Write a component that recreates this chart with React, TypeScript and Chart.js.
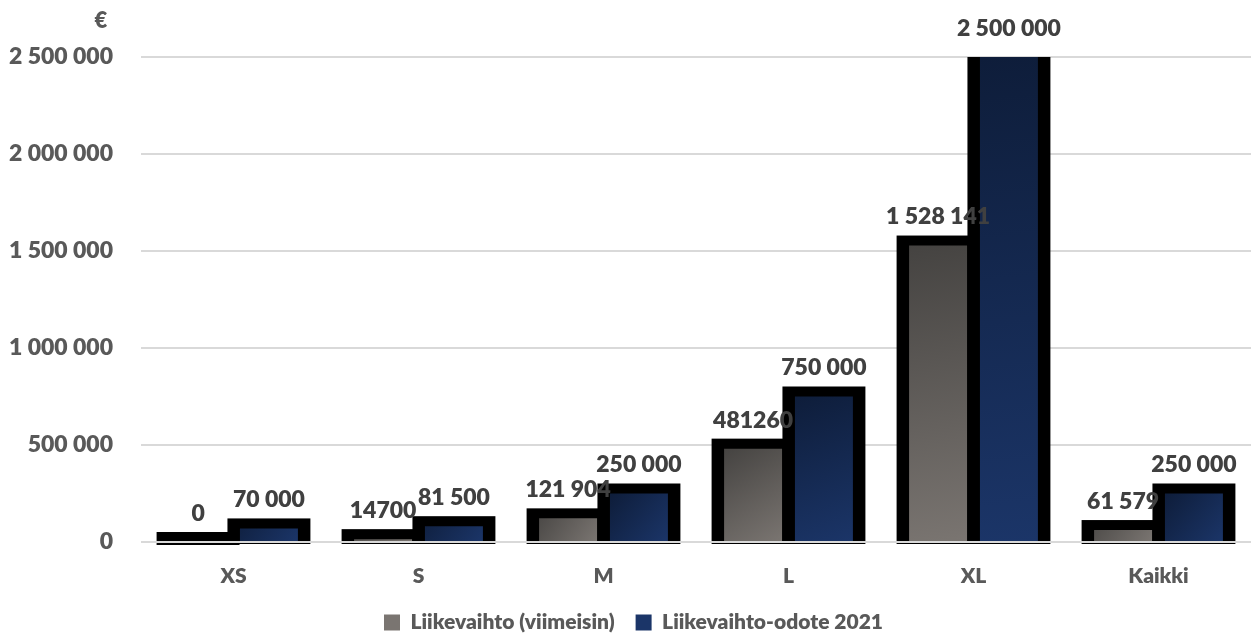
import React, { useEffect, useRef } from "react";
import { Chart, registerables } from "chart.js";

Chart.register(...registerables);

const categories = ["XS", "S", "M", "L", "XL", "Kaikki"];
const seriesNames = ["Liikevaihto (viimeisin)", "Liikevaihto-odote 2021"];
const latestRevenue = [0, 14700, 121904, 481260, 1528141, 61579];
const expectedRevenue2021 = [70000, 81500, 250000, 750000, 2500000, 250000];
const latestLabels = ["0", "14700", "121 904", "481260", "1 528 141", "61 579"];
const expectedLabels = ["70 000", "81 500", "250 000", "750 000", "2 500 000", "250 000"];
const yMin = 0;
const yMax = 2500000;
const yStep = 500000;
const unitLabel = "€";

const FONT = "Lato, 'Open Sans', sans-serif";
const WEIGHT = 800;
const CAT_PCT = 0.766;
const BAR_PCT = 0.818;
const BORDER_SIDE = 12.5;
const BORDER_TOP = 10;

const fmt = (v: number) => String(v).replace(/\B(?=(\d{3})+(?!\d))/g, " ");

function makeBg(dark: string, light: string, solid: string, side: number) {
  return (c: any) => {
    if (c.type !== "data") return solid;
    const chart = c.chart;
    const xs = chart.scales?.x;
    const ys = chart.scales?.y;
    if (!xs || !ys || !chart.chartArea) return solid;
    const cx = xs.getPixelForValue(c.dataIndex);
    const cat = xs.width / categories.length;
    const pitch = (cat * CAT_PCT) / 2;
    const bx = cx + (side * pitch) / 2;
    const half = (pitch * BAR_PCT) / 2;
    const top = ys.getPixelForValue(c.raw);
    const base = ys.getPixelForValue(0);
    const g = chart.ctx.createLinearGradient(bx - half, Math.min(top, base - 40), bx + half, base);
    g.addColorStop(0, dark);
    g.addColorStop(1, light);
    return g;
  };
}

const borderPlugin = {
  id: "thickBorder",
  beforeDatasetsDraw(chart: any) {
    const { ctx, chartArea } = chart;
    ctx.save();
    ctx.beginPath();
    ctx.rect(chartArea.left, chartArea.top, chartArea.right - chartArea.left, chartArea.bottom - chartArea.top + 4);
    ctx.clip();
    ctx.fillStyle = "#000000";
    [0, 1].forEach((di) => {
      const meta = chart.getDatasetMeta(di);
      meta.data.forEach((el: any) => {
        const { x, y, base, width } = el.getProps(["x", "y", "base", "width"], true);
        const l = x - width / 2 - BORDER_SIDE;
        const r = x + width / 2 + BORDER_SIDE;
        const t = Math.min(y, base) - BORDER_TOP;
        const b = base + 3;
        ctx.fillRect(l, t, r - l, b - t);
      });
    });
    ctx.restore();
  },
  afterDatasetsDraw(chart: any) {
    const { ctx, chartArea, scales } = chart;
    ctx.save();
    const y0 = scales.y.getPixelForValue(0);
    ctx.strokeStyle = "#d9d9d9";
    ctx.lineWidth = 2;
    ctx.beginPath();
    ctx.moveTo(chartArea.left, y0);
    ctx.lineTo(chartArea.right, y0);
    ctx.stroke();

    ctx.font = `${WEIGHT} 23px ${FONT}`;
    ctx.fillStyle = "#404040";
    ctx.textAlign = "center";
    ctx.textBaseline = "bottom";
    const labelSets = [latestLabels, expectedLabels];
    [0, 1].forEach((di) => {
      const meta = chart.getDatasetMeta(di);
      meta.data.forEach((el: any, i: number) => {
        const { x, y } = el.getProps(["x", "y"], true);
        const ty = Math.max(y, chartArea.top) - BORDER_TOP - 7;
        ctx.fillText(labelSets[di][i], x, ty);
      });
    });
    ctx.restore();
  },
  afterDraw(chart: any) {
    const { ctx, chartArea } = chart;
    ctx.save();
    ctx.font = `${WEIGHT} 22px ${FONT}`;
    ctx.fillStyle = "#595959";
    ctx.textAlign = "center";
    ctx.textBaseline = "middle";
    ctx.fillText(unitLabel, chartArea.left - 40, chartArea.top - 36);
    ctx.restore();
  },
};

export default function App() {
  const ref = useRef<HTMLCanvasElement | null>(null);
  useEffect(() => {
    if (!ref.current) return;
    const chart = new Chart(ref.current, {
      type: "bar",
      data: {
        labels: categories,
        datasets: [
          {
            label: seriesNames[0],
            data: latestRevenue,
            backgroundColor: makeBg("#454341", "#7a7571", "#5f5c5a", -1),
            borderWidth: 0,
            categoryPercentage: CAT_PCT,
            barPercentage: BAR_PCT,
          },
          {
            label: seriesNames[1],
            data: expectedRevenue2021,
            backgroundColor: makeBg("#0e1d3a", "#1b3568", "#13275a", 1),
            borderWidth: 0,
            categoryPercentage: CAT_PCT,
            barPercentage: BAR_PCT,
          },
        ],
      },
      options: {
        animation: false,
        responsive: true,
        maintainAspectRatio: false,
        layout: { padding: { top: 57, left: 8, right: -8, bottom: -6 } },
        plugins: {
          legend: {
            position: "bottom",
            labels: {
              font: { family: FONT, size: 21, weight: WEIGHT },
              color: "#595959",
              boxWidth: 16,
              boxHeight: 16,
              padding: 21,
            },
          },
          tooltip: { enabled: false },
        },
        scales: {
          x: {
            grid: { display: false, drawTicks: false },
            border: { display: false },
            ticks: {
              font: { family: FONT, size: 21, weight: WEIGHT },
              color: "#595959",
              padding: 22,
            },
            afterFit: (s: any) => {
              s.height = 49;
            },
          },
          y: {
            min: yMin,
            max: yMax,
            grid: { color: "#d9d9d9", lineWidth: 2, drawTicks: false },
            border: { display: false },
            ticks: {
              stepSize: yStep,
              font: { family: FONT, size: 23, weight: WEIGHT },
              color: "#595959",
              padding: 28,
              callback: (v: any) => fmt(Number(v)),
            },
            afterFit: (s: any) => {
              s.width = 133;
            },
          },
        },
      },
      plugins: [borderPlugin],
    });
    return () => chart.destroy();
  }, []);
  return (
    <div style={{ position: "fixed", left: 0, top: 0, width: 1251, height: 637, background: "#ffffff" }}>
      <canvas ref={ref} />
    </div>
  );
}
